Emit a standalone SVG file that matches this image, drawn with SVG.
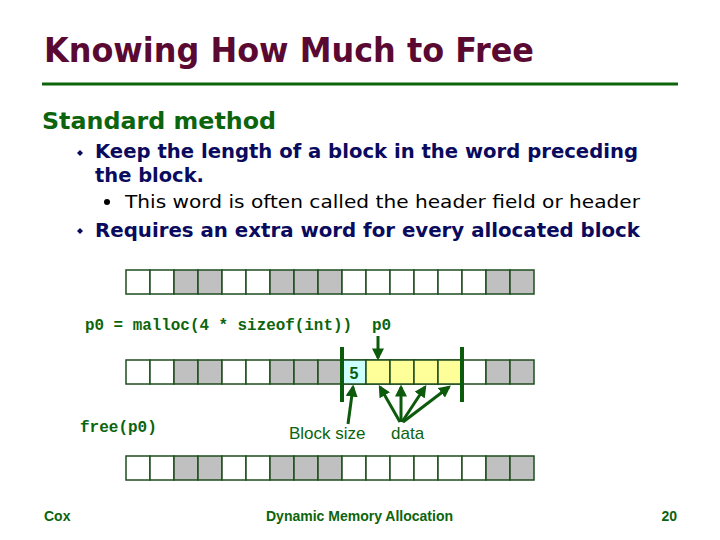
<svg xmlns="http://www.w3.org/2000/svg" width="720" height="540" viewBox="0 0 720 540">
<style>
.title{font-family:"DejaVu Sans","Verdana",sans-serif;font-weight:bold;font-size:33px;fill:#5a0a32}
.head{font-family:"DejaVu Sans",sans-serif;font-weight:bold;font-size:23px;fill:#0c640c}
.b1{font-family:"DejaVu Sans",sans-serif;font-weight:bold;font-size:19px;fill:#0a0a5e}
.b2{font-family:"DejaVu Sans",sans-serif;font-size:17px;fill:#000}
.code{font-family:"Liberation Mono","Courier New",monospace;font-weight:bold;font-size:16px;fill:#0c640c}
.lbl{font-family:"Liberation Sans",Arial,sans-serif;font-size:17px;fill:#0c640c}
.foot{font-family:"Liberation Sans",Arial,sans-serif;font-weight:bold;font-size:14px;fill:#0c640c}
.c{stroke:#1e4d1e;stroke-width:1.5}
.w{fill:#fff}
.g{fill:#c0c0c0}
.cy{fill:#ccffff}
.y{fill:#ffff99}
.arr{stroke:#0c5a0c;stroke-width:3;fill:none;marker-end:url(#ah)}
.bar{stroke:#0c5a0c;stroke-width:4}
</style>
<defs>
<marker id="ah" markerWidth="4" markerHeight="4" refX="3.2" refY="2" orient="auto" markerUnits="strokeWidth">
<path d="M0,0 L4,2 L0,4 Z" fill="#0c5a0c"/>
</marker>
<g id="rowbase">
<rect class="c w" x="126" y="0" width="24" height="24"/>
<rect class="c w" x="150" y="0" width="24" height="24"/>
<rect class="c g" x="174" y="0" width="24" height="24"/>
<rect class="c g" x="198" y="0" width="24" height="24"/>
<rect class="c w" x="222" y="0" width="24" height="24"/>
<rect class="c w" x="246" y="0" width="24" height="24"/>
<rect class="c g" x="270" y="0" width="24" height="24"/>
<rect class="c g" x="294" y="0" width="24" height="24"/>
<rect class="c g" x="318" y="0" width="24" height="24"/>
<rect class="c w" x="342" y="0" width="24" height="24"/>
<rect class="c w" x="366" y="0" width="24" height="24"/>
<rect class="c w" x="390" y="0" width="24" height="24"/>
<rect class="c w" x="414" y="0" width="24" height="24"/>
<rect class="c w" x="438" y="0" width="24" height="24"/>
<rect class="c w" x="462" y="0" width="24" height="24"/>
<rect class="c g" x="486" y="0" width="24" height="24"/>
<rect class="c g" x="510" y="0" width="24" height="24"/>
</g>
</defs>
<rect width="720" height="540" fill="#fff"/>

<g id="header">
<text class="title" x="44" y="62" textLength="490" lengthAdjust="spacingAndGlyphs">Knowing How Much to Free</text>
<line x1="42" y1="84" x2="678" y2="84" stroke="#0c640c" stroke-width="3"/>
</g>

<g id="bullets">
<text class="head" x="42" y="129" textLength="234" lengthAdjust="spacingAndGlyphs">Standard method</text>
<path d="M80,150 L83,153 L80,156 L77,153 Z" fill="#0a0a5e"/>
<text class="b1" x="95" y="158" textLength="543" lengthAdjust="spacingAndGlyphs">Keep the length of a block in the word preceding</text>
<text class="b1" x="95" y="182" textLength="109" lengthAdjust="spacingAndGlyphs">the block.</text>
<circle cx="107" cy="202" r="3" fill="#000"/>
<text class="b2" x="125" y="208" textLength="515" lengthAdjust="spacingAndGlyphs">This word is often called the header field or header</text>
<path d="M80,228 L83,231 L80,234 L77,231 Z" fill="#0a0a5e"/>
<text class="b1" x="95" y="237" textLength="545" lengthAdjust="spacingAndGlyphs">Requires an extra word for every allocated block</text>
</g>

<g id="row1"><use href="#rowbase" y="270"/></g>

<g id="code">
<text class="code" x="85" y="330" textLength="267" lengthAdjust="spacingAndGlyphs">p0 = malloc(4 * sizeof(int))</text>
<text class="code" x="372" y="330">p0</text>
<text class="code" x="80" y="432">free(p0)</text>
</g>

<g id="row2">
<use href="#rowbase" y="360"/>
<rect class="c cy" x="342" y="360" width="24" height="24"/>
<rect class="c y" x="366" y="360" width="24" height="24"/>
<rect class="c y" x="390" y="360" width="24" height="24"/>
<rect class="c y" x="414" y="360" width="24" height="24"/>
<rect class="c y" x="438" y="360" width="24" height="24"/>
<text x="354" y="379" text-anchor="middle" font-family="Liberation Sans,Arial,sans-serif" font-weight="bold" font-size="16" fill="#0c5a0c">5</text>
<line class="bar" x1="342" y1="347" x2="342" y2="402"/>
<line class="bar" x1="462" y1="347" x2="462" y2="402"/>
</g>

<g id="labels">
<text class="lbl" x="289" y="439">Block size</text>
<text class="lbl" x="391" y="439">data</text>
</g>

<g id="connectors">
<line class="arr" x1="378" y1="336" x2="378" y2="358"/>
<line class="arr" x1="348" y1="424" x2="353" y2="387"/>
<line class="arr" x1="400" y1="422" x2="380" y2="387"/>
<line class="arr" x1="401" y1="422" x2="401" y2="387"/>
<line class="arr" x1="402" y1="422" x2="425" y2="387"/>
<line class="arr" x1="403" y1="422" x2="449" y2="387"/>
</g>

<g id="row3"><use href="#rowbase" y="456"/></g>

<g id="footer">
<text class="foot" x="44" y="521">Cox</text>
<text class="foot" x="266" y="521" textLength="187" lengthAdjust="spacingAndGlyphs">Dynamic Memory Allocation</text>
<text class="foot" x="677" y="521" text-anchor="end">20</text>
</g>
</svg>
